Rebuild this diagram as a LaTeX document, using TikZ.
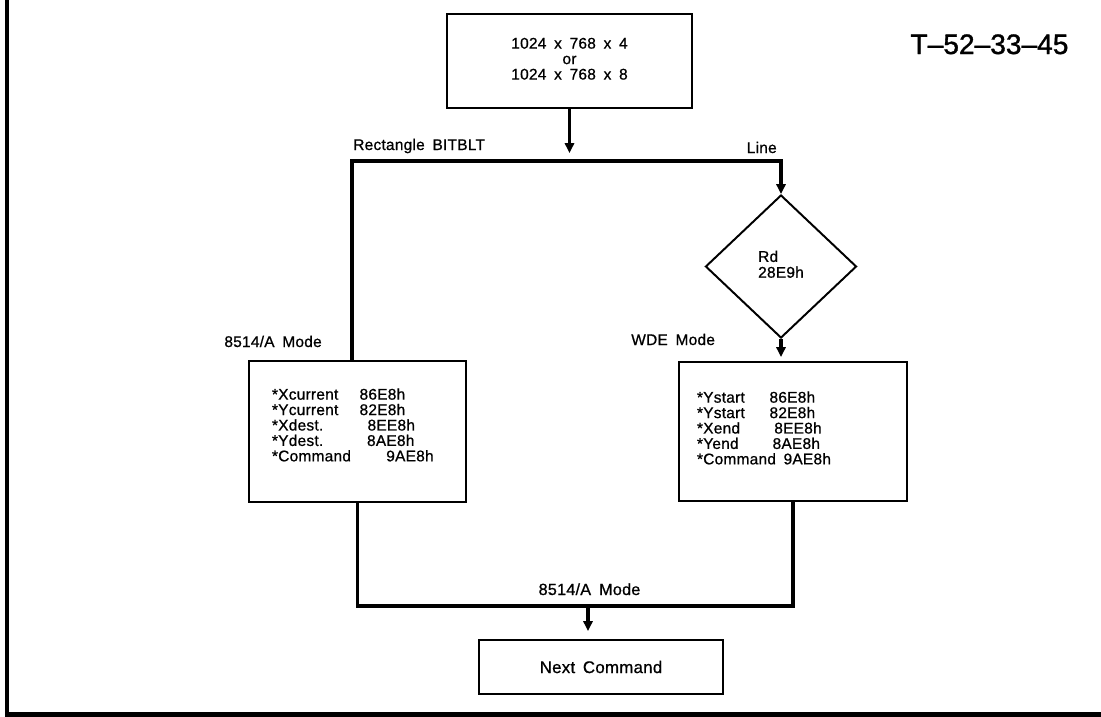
\documentclass[tikz,border=0pt]{standalone}
\usepackage{fontspec}
\setmainfont{Liberation Sans}[LetterSpace=1.5, FakeBold=0.8]
\newfontfamily\tagfont{Liberation Sans}[FakeBold=1.2]
\usetikzlibrary{shapes.geometric,arrows.meta}

\newcommand{\txtsize}{\fontsize{11}{11}\selectfont\spaceskip=0.5em plus 0.1em minus 0.05em\relax}
\newcommand{\lblsize}{\fontsize{11.5}{12}\selectfont\spaceskip=0.5em plus 0.1em minus 0.05em\relax}
\newcommand{\regsize}{\fontsize{11}{10}\selectfont}
\newcommand{\reg}[3]{\makebox[#1][l]{#2}#3}

\tikzset{
  box/.style={draw, line width=1.4pt, inner sep=0pt, font=\txtsize},
  flow/.style={line width=2.4pt},
  arr/.style={flow, -{Triangle[length=7pt,width=6.5pt]}},
  lbl/.style={inner sep=0pt, font=\txtsize},
}

\begin{document}
\begin{tikzpicture}[x=0.025cm, y=-0.025cm]
\useasboundingbox (0,0) rectangle (1101,717);
\draw[line width=3pt] (7,0) -- (7,714.5) -- (1101,714.5);

\node[box, minimum width=6.125cm, minimum height=2.35cm] (fmt) at (569.5,61)
  {\begin{tabular}{@{}c@{}}1024 x 768 x 4\\or\\1024 x 768 x 8\end{tabular}};
\node[box, diamond, minimum width=3.775cm, minimum height=3.575cm] (rd) at (781,266.5)
  {\begin{tabular}{@{}l@{}}Rd\\28E9h\end{tabular}};
\node[box, minimum width=5.425cm, minimum height=3.525cm] (bitblt) at (357.5,431.5) {};
\node[box, minimum width=5.7cm, minimum height=3.475cm] (wde) at (793,431.5) {};
\node[box, minimum width=6.1cm, minimum height=1.35cm] (next) at (601,667)
  {\fontsize{12}{12}\selectfont Next Command};

\node[lbl, anchor=west, font=\regsize] (bitbltregs) at (271.7,427) {\begin{tabular}{@{}l@{}}
  \reg{62.3pt}{*Xcurrent}{86E8h}\\
  \reg{62.3pt}{*Ycurrent}{82E8h}\\
  \reg{68pt}{*Xdest.}{8EE8h}\\
  \reg{67.6pt}{*Ydest.}{8AE8h}\\
  \reg{81.3pt}{*Command}{9AE8h}\end{tabular}};
\node[lbl, anchor=west, font=\regsize] (wderegs) at (696.7,430) {\begin{tabular}{@{}l@{}}
  \reg{51.6pt}{*Ystart}{86E8h}\\
  \reg{51.6pt}{*Ystart}{82E8h}\\
  \reg{55pt}{*Xend}{8EE8h}\\
  \reg{53.8pt}{*Yend}{8AE8h}\\
  \reg{61.6pt}{*Command}{9AE8h}\end{tabular}};

\node[lbl, anchor=base west] (lblrect) at (353,150) {Rectangle BITBLT};
\node[lbl, anchor=base east] (lblline) at (777,153) {Line};
\node[lbl, anchor=base east] (lblmodel) at (322,347) {8514/A Mode};
\node[lbl, anchor=base west] (lblwde) at (631,345) {WDE Mode};
\node[lbl, anchor=base, font=\lblsize] (lblmodeb) at (589.5,595) {8514/A Mode};
\node[inner sep=0pt, anchor=base, font=\tagfont\fontsize{20}{24}\selectfont] (tag) at (989.5,54) {T–52–33–45};

\coordinate (split) at (569.5,153);
\coordinate (forkl) at (352,161);
\coordinate (forkr) at (781,161);
\coordinate (merge) at (588,606);

\draw[arr] (fmt) -- (split);
\draw[arr] (bitblt.north -| forkl) -- (forkl) -- (forkr) -- (rd.north);
\draw[arr, shorten >=0.1cm] (rd.south) -- (rd.south |- wde.north);
\draw[flow] (bitblt.south) |- (merge) -| (wde.south);
\draw[arr, shorten >=0.2cm] (merge) -- (merge |- next.north);
\end{tikzpicture}
\end{document}
